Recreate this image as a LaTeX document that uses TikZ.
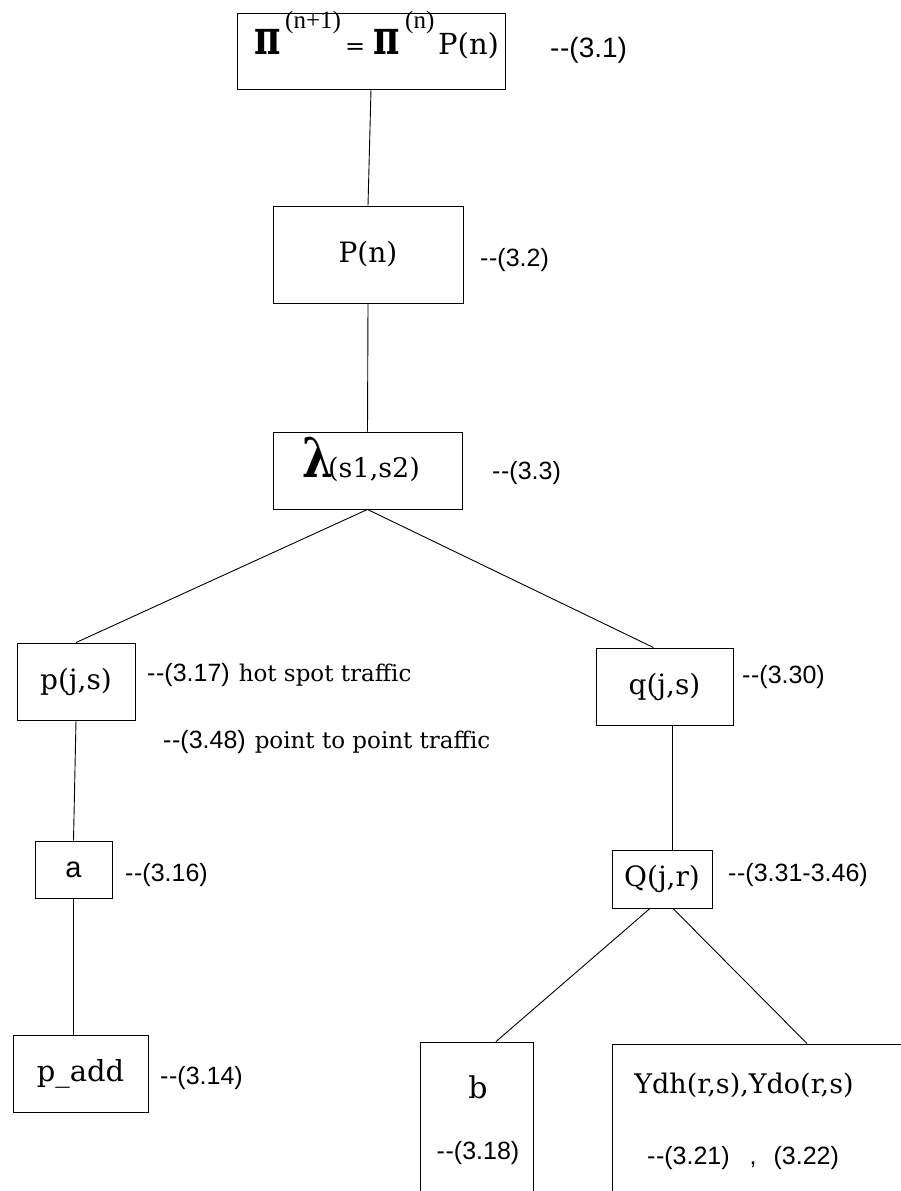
\documentclass[tikz,border=0pt]{standalone}
\usepackage{fontspec}
\setmainfont{DejaVu Serif}[Ligatures=TeXOff]
\newfontfamily\eqfont{Liberation Sans}[Ligatures=TeXOff]
\newfontfamily\supfont{Liberation Serif}
\usetikzlibrary{calc}
\newcommand\fsz[1]{\fontsize{#1}{#1}\selectfont}
\newcommand\dsh{-\kern0.6pt-}
\newcommand\bigpi{\scalebox{0.82}[1.1]{\fsz{44}\bfseries π}}
\tikzset{
  box/.style={draw, line width=0.9pt, inner sep=0pt},
  conn/.style={line width=0.9pt},
  eqn/.style={font=\eqfont\fsz{25}, anchor=west, inner sep=0pt},
  lbl/.style={font=\fsz{28}},
  txt/.style={inner sep=0pt},
}
\begin{document}
\begin{tikzpicture}[x=1pt,y=-1pt]
\useasboundingbox (0,0) rectangle (901,1191);
\fill[white] (0,0) rectangle (901,1191);
\clip (0,0) rectangle (901,1191);

% boxes
\node[box, minimum width=268pt, minimum height=76pt] (top) at (371,51) {};
\node[txt, anchor=base west] (toptext) at (254,54)
  {\makebox[31pt][l]{\bigpi}%
   \makebox[60pt][l]{\raisebox{26pt}{\supfont\fsz{25}(n+1)}}%
   \makebox[28pt][l]{\fsz{24}=}%
   \makebox[32pt][l]{\bigpi}%
   \makebox[33pt][l]{\raisebox{26pt}{\supfont\fsz{25}(n)}}%
   {\fsz{29}P(n)}};
\node[eqn, font=\eqfont\fsz{28}] (e31) at (550,50) {\dsh(3.1)};

\node[box, lbl, minimum width=190pt, minimum height=97pt] (pn) at (368,254.5) {P(n)};
\node[eqn] (e32) at (480,260) {\dsh(3.2)};

\node[box, minimum width=189pt, minimum height=77pt] (lam) at (367.5,470.5) {};
\node[txt, anchor=base west] (lamtext) at (302,477)
  {\makebox[26pt][l]{\scalebox{0.85}[1.05]{\fsz{52}\bfseries λ}}{\fsz{27}(s1,s2)}};
\node[eqn] (e33) at (492,473) {\dsh(3.3)};

\node[box, lbl, minimum width=118pt, minimum height=77pt] (p) at (76,681.5) {p(j,s)};
\node[txt, anchor=base west] (hs) at (147,681) {{\eqfont\fsz{25}\dsh(3.17)}\hspace{9pt}{\fsz{23}hot spot traffic}};
\node[txt, anchor=base west] (pp) at (163,748) {{\eqfont\fsz{25}\dsh(3.48)}\hspace{9pt}{\fsz{23}point to point traffic}};

\node[box, lbl, minimum width=137pt, minimum height=77pt] (q) at (664.5,686.5) {q(j,s)};
\node[eqn] (e330) at (742,677) {\dsh(3.30)};

\node[box, minimum width=77pt, minimum height=57pt, font=\eqfont\fsz{29}] (a) at (73.5,869.5) {a};
\node[eqn] (e316) at (125,875) {\dsh(3.16)};

\node[box, lbl, minimum width=100pt, minimum height=58pt] (QQ) at (662,879) {Q(j,r)};
\node[eqn] (e331) at (728,875) {\dsh(3.31-3.46)};

\node[box, minimum width=135pt, minimum height=77pt, font=\fsz{29}] (padd) at (80.5,1073.5) {p\_add};
\node[eqn] (e314) at (160,1078) {\dsh(3.14)};

\node[box, minimum width=113pt, minimum height=200pt] (bb) at (476.5,1142) {};
\node[txt, font=\fsz{30}] (btext) at (478,1087) {b};
\node[txt, font=\eqfont\fsz{25}] (beq) at (478,1153) {\dsh(3.18)};

\node[box, minimum width=390pt, minimum height=200pt] (yy) at (807,1144) {};
\node[txt, font=\fsz{27}] (ytext) at (744,1085) {Ydh(r,s),Ydo(r,s)};
\node[txt, font=\eqfont\fsz{25}] (yeq) at (743,1158) {\dsh(3.21)\hspace{20pt},\hspace{17pt}(3.22)};

% connectors
\draw[conn] (top.south) -- (pn.north);
\draw[conn] (pn.south) -- (lam.north);
\draw[conn] (lam.south) -- (p.north);
\draw[conn] (lam.south) -- ($(q.north)+(-11,0)$);
\draw[conn] ($(q.south)+(7.5,0)$) -- ($(QQ.north)+(10,0)$);
\draw[conn] (p.south) -- (a.north);
\draw[conn] (a.south) -- (a.south |- padd.north);
\draw[conn] ($(QQ.south)+(-12,0)$) -- ($(bb.north)+(19.5,0)$);
\draw[conn] ($(QQ.south)+(11,0)$) -- (yy.north);
\end{tikzpicture}
\end{document}
